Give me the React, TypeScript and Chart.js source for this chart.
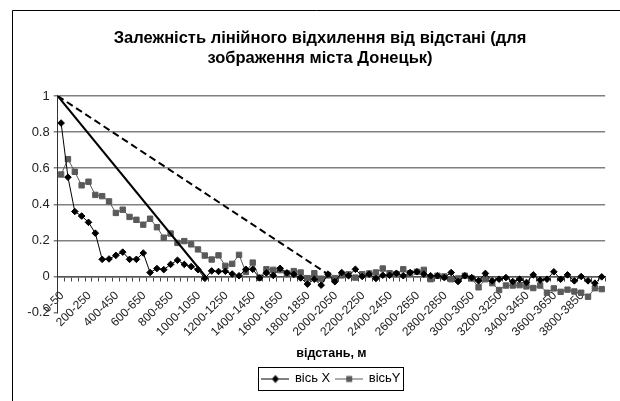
import React, { useEffect, useRef } from "react";
import { Chart, registerables } from "chart.js";

Chart.register(...registerables);

const FONT = "'Liberation Sans', Arial, Helvetica, sans-serif";

const categories = [
  "0-50", "50-100", "100-150", "150-200", "200-250", "250-300", "300-350", "350-400",
  "400-450", "450-500", "500-550", "550-600", "600-650", "650-700", "700-750", "750-800",
  "800-850", "850-900", "900-950", "950-1000", "1000-1050", "1050-1100", "1100-1150", "1150-1200",
  "1200-1250", "1250-1300", "1300-1350", "1350-1400", "1400-1450", "1450-1500", "1500-1550", "1550-1600",
  "1600-1650", "1650-1700", "1700-1750", "1750-1800", "1800-1850", "1850-1900", "1900-1950", "1950-2000",
  "2000-2050", "2050-2100", "2100-2150", "2150-2200", "2200-2250", "2250-2300", "2300-2350", "2350-2400",
  "2400-2450", "2450-2500", "2500-2550", "2550-2600", "2600-2650", "2650-2700", "2700-2750", "2750-2800",
  "2800-2850", "2850-2900", "2900-2950", "2950-3000", "3000-3050", "3050-3100", "3100-3150", "3150-3200",
  "3200-3250", "3250-3300", "3300-3350", "3350-3400", "3400-3450", "3450-3500", "3500-3550", "3550-3600",
  "3600-3650", "3650-3700", "3700-3750", "3750-3800", "3800-3850", "3850-3900", "3900-3950", "3950-4000",
];

const axisX = [
  0.85, 0.55, 0.36, 0.335, 0.30, 0.24, 0.095, 0.097, 0.117, 0.135,
  0.095, 0.095, 0.13, 0.022, 0.044, 0.038, 0.067, 0.09, 0.067, 0.055,
  0.038, -0.01, 0.031, 0.028, 0.029, 0.014, 0.004, 0.04, 0.04, -0.008,
  0.02, 0.006, 0.045, 0.02, 0.012, -0.008, -0.042, -0.015, -0.048, 0.013,
  -0.029, 0.022, 0.004, 0.04, 0.0, 0.013, -0.011, 0.007, 0.007, 0.018,
  0.004, 0.022, 0.026, 0.013, 0.004, 0.004, -0.006, 0.022, -0.028, 0.004,
  -0.006, -0.024, 0.017, -0.024, -0.015, -0.006, -0.028, -0.015, -0.033, 0.009,
  -0.02, -0.015, 0.026, -0.015, 0.009, -0.024, 0.0, -0.024, -0.037, -0.002,
];

const axisY = [
  0.565, 0.65, 0.58, 0.505, 0.525, 0.452, 0.445, 0.416, 0.352, 0.37,
  0.33, 0.314, 0.287, 0.32, 0.273, 0.215, 0.238, 0.186, 0.196, 0.178,
  0.15, 0.116, 0.094, 0.117, 0.059, 0.07, 0.12, 0.025, 0.077, -0.007,
  0.04, 0.037, 0.035, 0.017, 0.03, 0.022, -0.009, 0.018, -0.012, 0.006,
  -0.009, 0.006, 0.012, -0.006, 0.013, 0.017, 0.022, 0.044, 0.018, 0.013,
  0.04, 0.018, 0.026, 0.037, -0.015, 0.004, 0.0, -0.015, -0.011, 0.004,
  -0.011, -0.06, -0.015, -0.037, -0.075, -0.05, -0.05, -0.048, -0.055, -0.064,
  -0.05, -0.09, -0.066, -0.085, -0.073, -0.083, -0.09, -0.112, -0.065, -0.07,
];

// straight reference lines (distance in metres, value)
const steepLineM = [0, 1080];
const steepLineV = [1, 0];
const gentleLineM = [0, 2000];
const gentleLineV = [1, 0];

const titleLines = [
  "Залежність лінійного відхилення від відстані (для",
  "зображення міста Донецьк)",
];
const xAxisTitle = "відстань, м";
const seriesNames = ["вісь X", "вісьY"];
const distanceMax = 4000;

const GRID = "#808080";
const NONE = "rgba(0,0,0,0)";

function makeMarker(color: string, shape: "diamond" | "square") {
  const c = document.createElement("canvas");
  c.width = 28;
  c.height = 10;
  const g = c.getContext("2d")!;
  g.strokeStyle = color;
  g.lineWidth = 1;
  g.beginPath();
  g.moveTo(0, 5.5);
  g.lineTo(28, 5.5);
  g.stroke();
  g.fillStyle = color;
  if (shape === "diamond") {
    g.beginPath();
    g.moveTo(14, 1.5);
    g.lineTo(17.5, 5.5);
    g.lineTo(14, 9.5);
    g.lineTo(10.5, 5.5);
    g.closePath();
    g.fill();
  } else {
    g.fillRect(11, 2.5, 6, 6);
  }
  return c;
}

const framePlugin = {
  id: "frame",
  beforeDraw(chart: any) {
    const ctx = chart.ctx;
    ctx.save();
    ctx.fillStyle = "#fff";
    ctx.fillRect(0, 0, chart.width, chart.height);
    ctx.strokeStyle = "#000";
    ctx.lineWidth = 1;
    ctx.beginPath();
    ctx.moveTo(12.5, chart.height);
    ctx.lineTo(12.5, 10.5);
    ctx.lineTo(chart.width, 10.5);
    ctx.stroke();
    ctx.restore();
  },
};

const legendBorderPlugin = {
  id: "legendBorder",
  afterDraw(chart: any) {
    const lg = chart.legend;
    if (!lg || !lg.legendHitBoxes || !lg.legendHitBoxes.length) return;
    const hb = lg.legendHitBoxes;
    const last = hb[hb.length - 1];
    const left = Math.round(hb[0].left - 4) + 0.5;
    const right = Math.round(last.left + last.width + 3) + 0.5;
    const top = Math.round(hb[0].top - 5) + 0.5;
    const bottom = Math.round(hb[0].top + hb[0].height + 5) + 0.5;
    const ctx = chart.ctx;
    ctx.save();
    ctx.strokeStyle = "#000";
    ctx.lineWidth = 1;
    ctx.strokeRect(left, top, right - left, bottom - top);
    ctx.restore();
  },
};

export default function App() {
  const ref = useRef<HTMLCanvasElement | null>(null);

  useEffect(() => {
    if (!ref.current) return;
    const markers = [makeMarker("#000", "diamond"), makeMarker("#5a5a5a", "square")];
    const steepPts = steepLineM.map((m, i) => ({ x: m, y: steepLineV[i] }));
    const gentlePts = gentleLineM.map((m, i) => ({ x: m, y: gentleLineV[i] }));

    const chart = new Chart(ref.current, {
      type: "line",
      data: {
        labels: categories,
        datasets: [
          {
            label: seriesNames[0],
            data: axisX,
            xAxisID: "x",
            yAxisID: "y",
            borderColor: "#000",
            backgroundColor: "#000",
            borderWidth: 1,
            pointStyle: "rectRot",
            pointRadius: 3.3,
            pointBorderWidth: 1,
            pointBackgroundColor: "#000",
            pointBorderColor: "#000",
            tension: 0,
            order: 1,
          },
          {
            label: seriesNames[1],
            data: axisY,
            xAxisID: "x",
            yAxisID: "y",
            borderColor: "#5a5a5a",
            backgroundColor: "#5a5a5a",
            borderWidth: 1,
            pointStyle: "rect",
            pointRadius: 3.8,
            pointBorderWidth: 1,
            pointBackgroundColor: "#5a5a5a",
            pointBorderColor: "#5a5a5a",
            tension: 0,
            order: 2,
          },
          {
            label: "steep",
            data: steepPts as any,
            xAxisID: "x2",
            yAxisID: "y",
            borderColor: "#000",
            borderWidth: 2,
            pointRadius: 0,
            tension: 0,
            order: 0,
          },
          {
            label: "gentle",
            data: gentlePts as any,
            xAxisID: "x2",
            yAxisID: "y",
            borderColor: "#000",
            borderWidth: 2,
            borderDash: [7, 4],
            pointRadius: 0,
            tension: 0,
            order: 0,
          },
        ],
      },
      options: {
        animation: false,
        responsive: false,
        events: [],
        layout: { padding: { left: 24, right: 4, top: 10, bottom: 6 } },
        plugins: {
          tooltip: { enabled: false },
          title: {
            display: true,
            text: titleLines,
            color: "#000",
            font: { family: FONT, size: 16.5, weight: "bold", lineHeight: 1.22 },
            padding: { top: 18, bottom: 27.7 },
          },
          legend: {
            display: true,
            position: "bottom",
            fullSize: false,
            labels: {
              usePointStyle: true,
              pointStyleWidth: 26,
              padding: 6,
              color: "#000",
              font: { family: FONT, size: 13 },
              generateLabels: (c: any) => {
                const items = (Chart.defaults.plugins.legend.labels as any)
                  .generateLabels(c)
                  .filter((it: any) => it.datasetIndex < 2);
                items.forEach((it: any) => {
                  it.pointStyle = markers[it.datasetIndex];
                  it.fontColor = "#000";
                });
                return items;
              },
            },
          },
        },
        scales: {
          x: {
            type: "category",
            axis: "x",
            position: { y: 0 } as any,
            offset: true,
            afterFit: (s: any) => {
              s.height = 0;
            },
            grid: {
              display: true,
              drawOnChartArea: false,
              drawTicks: true,
              tickLength: 4,
              offset: true,
              color: "#444",
              lineWidth: 1,
            },
            border: { display: true, color: "#555", width: 1.5 },
            ticks: {
              autoSkip: false,
              maxRotation: 45,
              minRotation: 45,
              padding: 8,
              labelOffset: 1,
              color: "#222",
              font: { family: FONT, size: 12 },
              callback: (_v: any, i: number) => (i % 4 === 0 ? categories[i] : ""),
            },
          },
          x2: {
            type: "linear",
            axis: "x",
            position: "bottom",
            min: 0,
            max: distanceMax,
            afterFit: (s: any) => {
              s.height = 53.4;
            },
            grid: { display: false },
            border: { display: false },
            ticks: { display: false },
            title: {
              display: true,
              text: xAxisTitle,
              color: "#000",
              font: { family: FONT, size: 12.5, weight: "bold" },
              padding: { top: 0, bottom: 4.8 },
            },
          },
          y: {
            type: "linear",
            position: "left",
            min: -0.2,
            max: 1,
            afterFit: (s: any) => {
              s.width = 33.7;
            },
            grid: {
              display: true,
              drawOnChartArea: true,
              color: [NONE, GRID, GRID, GRID, GRID, GRID, GRID],
              tickColor: GRID,
              lineWidth: 1.5,
              drawTicks: true,
              tickLength: 4,
            },
            border: { display: true, color: "#333", width: 1 },
            ticks: {
              stepSize: 0.2,
              padding: 4,
              color: "#222",
              font: { family: FONT, size: 13 },
              callback: (v: any) => String(Math.round(Number(v) * 10) / 10),
            },
          },
        },
      } as any,
      plugins: [framePlugin, legendBorderPlugin],
    });

    return () => chart.destroy();
  }, []);

  return (
    <div
      style={{
        position: "absolute",
        left: 0,
        top: 0,
        width: 620,
        height: 401,
        overflow: "hidden",
        background: "#fff",
      }}
    >
      <canvas ref={ref} width={620} height={401} style={{ display: "block" }} />
    </div>
  );
}
